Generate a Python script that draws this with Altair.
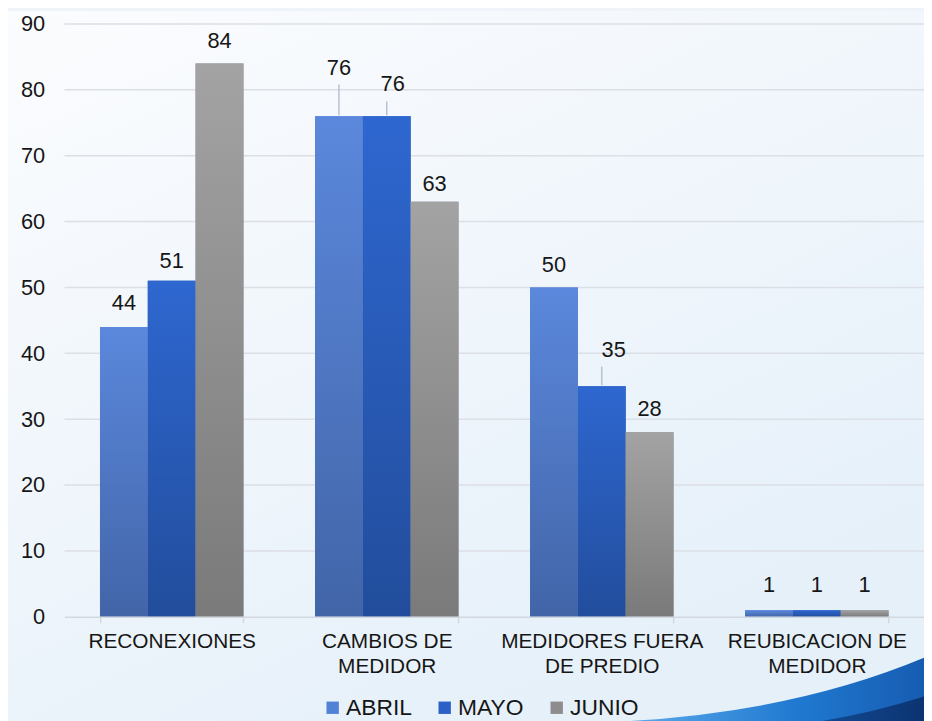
import altair as alt
import pandas as pd

# ---- data ----
categories = ["RECONEXIONES", "CAMBIOS DE\nMEDIDOR", "MEDIDORES FUERA\nDE PREDIO", "REUBICACION DE\nMEDIDOR"]
months = ["ABRIL", "MAYO", "JUNIO"]
abril = [44, 76, 50, 1]
mayo = [51, 76, 35, 1]
junio = [84, 63, 28, 1]
y_ticks = [0, 10, 20, 30, 40, 50, 60, 70, 80, 90]

# ---- label placement (style: pixels above bar top / horizontal shift / leader line) ----
label_lift = {"ABRIL": [24, 49, 23, 25], "MAYO": [20, 32, 37, 25], "JUNIO": [23, 18, 24, 25]}
label_shift = {"ABRIL": [0, 0, 0, 0], "MAYO": [0, 6, 12, 0], "JUNIO": [0, 0, 0, 0]}
leader = {"ABRIL": [0, 1, 0, 0], "MAYO": [0, 1, 1, 0], "JUNIO": [0, 0, 0, 0]}

W, H = 867, 598
YMAX = 90
PX = YMAX / H  # data units per pixel
FONT = "Liberation Sans"
TXT = "#161616"

series = {"ABRIL": abril, "MAYO": mayo, "JUNIO": junio}
rows = []
for m in months:
    for i, c in enumerate(categories):
        v = series[m][i]
        ly = v + label_lift[m][i] * PX
        rows.append({
            "cat": c, "month": m, "value": v,
            "label_y": ly, "dx": label_shift[m][i], "leader": leader[m][i],
            "lead_bot": v + 1 * PX, "lead_top": ly - 17 * PX,
        })
df = pd.DataFrame(rows)
one = pd.DataFrame({"k": [0]})
grid_df = pd.DataFrame({"t": y_ticks[1:]})

x_enc = alt.X("cat:N", sort=categories, title=None,
              scale=alt.Scale(paddingInner=0.333, paddingOuter=0.165),
              axis=alt.Axis(labelExpr="split(datum.label, '\\n')", labelFont=FONT,
                            labelFontSize=21, labelColor=TXT, labelLineHeight=25,
                            labelPadding=8, labelLimit=400, tickBand="extent", tickSize=6,
                            tickColor="#d3d8df", tickWidth=1.5, domainColor="#d3d8df",
                            domainWidth=1.5, grid=False, labelAngle=0, zindex=1))
xo_enc = alt.XOffset("month:N", sort=months, scale=alt.Scale(paddingInner=0, paddingOuter=0))
y_scale = alt.Scale(domain=[0, YMAX], nice=False)
y_enc = alt.Y("value:Q", scale=y_scale, title=None,
              axis=alt.Axis(values=y_ticks, domain=False, ticks=False, labelPadding=20,
                            labelFont=FONT, labelFontSize=22, labelColor=TXT,
                            grid=False, zindex=1))

# background gradient
bg = alt.Chart(one).mark_rect(
    fill=alt.Gradient(gradient="linear", x1=0, y1=0, x2=0.6, y2=1,
                      stops=[alt.GradientStop(color="#fbfcfe", offset=0),
                             alt.GradientStop(color="#e5f0f9", offset=1)])
).encode(x=alt.value(-57), x2=alt.value(W), y=alt.value(-13), y2=alt.value(H + 110))

# horizontal grid lines
grid = alt.Chart(grid_df).mark_rule(color="#dcdfe5", strokeWidth=1.5).encode(
    y=alt.Y("t:Q", scale=y_scale, title=None), x=alt.value(0), x2=alt.value(W))

# decorative swoosh (bottom right)
swoosh_outer = alt.Chart(one).mark_point(
    shape="M -0.85 0.2 Q 0.2 0.14 1 -0.22 L 1 0.4 L -0.85 0.4 Z",
    size=115600, filled=True, opacity=1, strokeWidth=0,
    fill=alt.Gradient(gradient="linear", x1=0, y1=0, x2=1, y2=0,
                      stops=[alt.GradientStop(color="#5aa9ea", offset=0),
                             alt.GradientStop(color="#1f78cf", offset=0.55),
                             alt.GradientStop(color="#1558ad", offset=1)])
).encode(x=alt.value(715), y=alt.value(669))
swoosh_inner = alt.Chart(one).mark_point(
    shape="M 0.29 0.2 Q 0.65 0.14 1 0.02 L 1 0.4 L 0.29 0.4 Z",
    size=115600, filled=True, opacity=1, strokeWidth=0,
    fill=alt.Gradient(gradient="linear", x1=0, y1=0, x2=1, y2=0,
                      stops=[alt.GradientStop(color="#124a92", offset=0),
                             alt.GradientStop(color="#0b2f6b", offset=1)])
).encode(x=alt.value(715), y=alt.value(669))

# bar shadow
shadow = alt.Chart(df).mark_bar(color="#8595ab", opacity=0.25, y2Offset=3, x2Offset=2).encode(
    x=x_enc, xOffset=xo_enc, y=alt.Y("value:Q", scale=y_scale, title=None))

# base bars (carry legend)
base = alt.Chart(df).mark_bar().encode(
    x=x_enc, xOffset=xo_enc, y=y_enc,
    color=alt.Color("month:N", sort=months,
                    scale=alt.Scale(domain=months, range=["#5282d6", "#2b60c6", "#8d8d8d"]),
                    legend=alt.Legend(orient="none", legendX=259, legendY=678,
                                      direction="horizontal", title=None,
                                      symbolType="square", symbolSize=156,
                                      symbolStrokeWidth=0, labelFont=FONT,
                                      labelFontSize=23, labelColor=TXT,
                                      labelOffset=2, columnPadding=21)))

grad_cols = {"ABRIL": ("#5b88dc", "#4265a8"), "MAYO": ("#2e67d0", "#224d9c"),
             "JUNIO": ("#a3a3a3", "#7a7a7a")}
grad_layers = []
for m in months:
    top, bot = grad_cols[m]
    grad_layers.append(
        alt.Chart(df).transform_filter(alt.datum.month == m).mark_bar(
            fill=alt.Gradient(gradient="linear", x1=0, y1=0, x2=0, y2=1,
                              stops=[alt.GradientStop(color=top, offset=0),
                                     alt.GradientStop(color=bot, offset=1)])
        ).encode(x=x_enc, xOffset=xo_enc, y=alt.Y("value:Q", scale=y_scale, title=None)))

label_layers = []
for d in sorted(set(df["dx"])):
    label_layers.append(
        alt.Chart(df).transform_filter((alt.datum.dx == d) & (alt.datum.leader == 1)).mark_rule(
            color="#b7c2d1", strokeWidth=1.5, xOffset=d / 2
        ).encode(x=x_enc, xOffset=xo_enc,
                 y=alt.Y("lead_bot:Q", scale=y_scale, title=None), y2="lead_top:Q"))
    label_layers.append(
        alt.Chart(df).transform_filter(alt.datum.dx == d).mark_text(
            font=FONT, fontSize=22, color=TXT, baseline="middle", dx=d
        ).encode(x=x_enc, xOffset=xo_enc,
                 y=alt.Y("label_y:Q", scale=y_scale, title=None), text="value:Q"))

chart = alt.layer(bg, grid, swoosh_outer, swoosh_inner, base, shadow, *grad_layers, *label_layers).properties(
    width=W, height=H,
    autosize=alt.AutoSizeParams(type="none"),
    padding={"left": 57, "top": 13, "right": 0, "bottom": 102},
    background="#eef4fa",
).configure_view(stroke=None)

chart.save("out.html", embed_options={"renderer": "svg", "actions": False})
